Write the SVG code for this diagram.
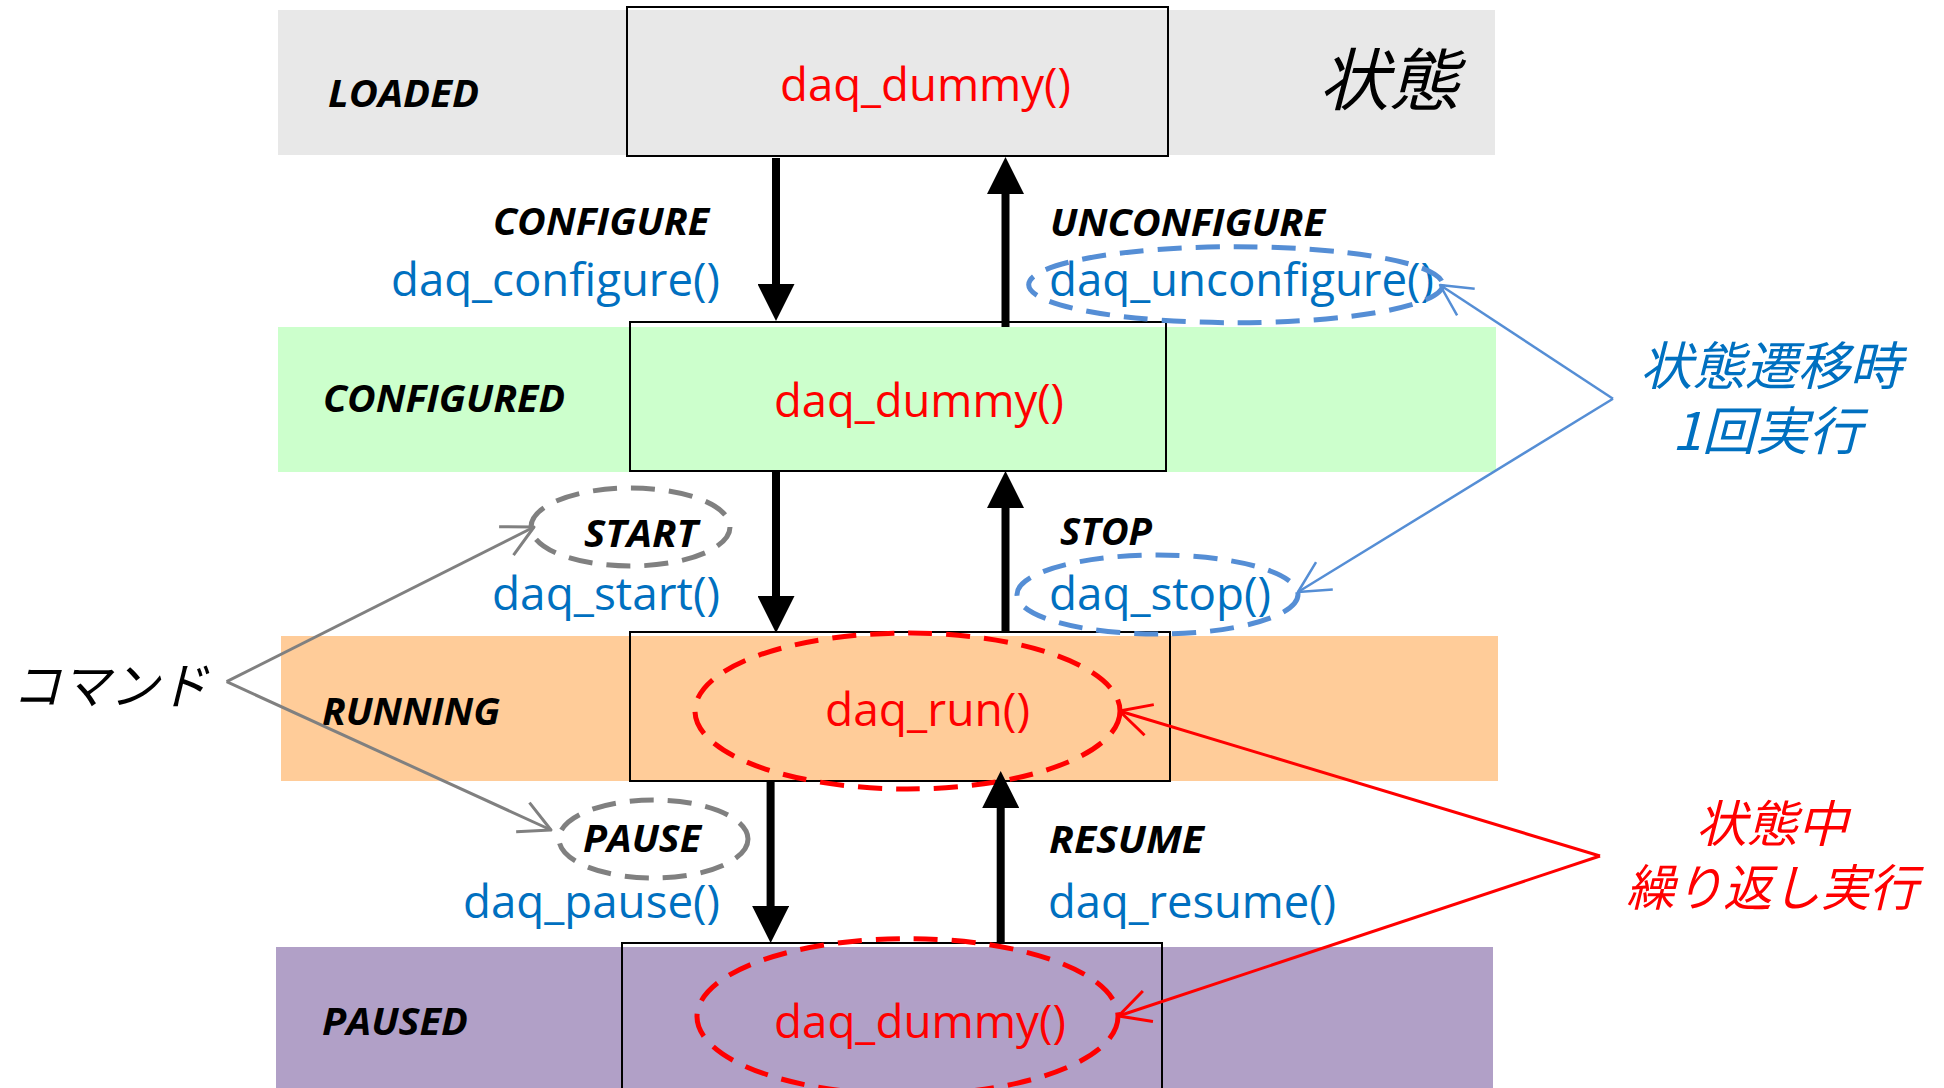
<svg xmlns="http://www.w3.org/2000/svg" width="1944" height="1088" viewBox="0 0 1944 1088">
  <defs>
    <style>
      .band { stroke: none; }
      .box { fill: none; stroke: #000; stroke-width: 2; }
      .state { font-family: "Open Sans", "Liberation Sans", sans-serif; font-weight: 700; font-style: italic; font-size: 38px; fill: #000; }
      .func { font-family: "Open Sans", "Liberation Sans", sans-serif; font-size: 45px; }
      .blue { fill: #0070c0; }
      .red { fill: #ff0000; }
      .cjk { font-family: "Noto Sans CJK JP", "Noto Sans CJK SC", sans-serif; font-style: italic; }
      .shaft { stroke: #000; stroke-width: 8; fill: none; marker-end: url(#head); }
      .ring { fill: none; stroke-width: 5; stroke-dasharray: 24 14; }
      .note-blue { stroke: #558ed5; stroke-width: 2.5; fill: none; marker-end: url(#open-blue); }
      .note-red { stroke: #ff0000; stroke-width: 3; fill: none; marker-end: url(#open-red); }
      .note-gray { stroke: #808080; stroke-width: 3; fill: none; marker-end: url(#open-gray); }
    </style>
    <marker id="head" markerUnits="userSpaceOnUse" markerWidth="37" markerHeight="37" viewBox="0 0 37 37" refX="0" refY="18.5" orient="auto">
      <path d="M0,0 L37,18.5 L0,37 z" fill="#000"/>
    </marker>
    <marker id="open-blue" markerUnits="userSpaceOnUse" markerWidth="40" markerHeight="40" viewBox="-36 -20 40 40" refX="0" refY="0" orient="auto" overflow="visible">
      <path d="M-31,-16 L0,0 L-31,16" fill="none" stroke="#558ed5" stroke-width="2.5" stroke-linejoin="round"/>
    </marker>
    <marker id="open-red" markerUnits="userSpaceOnUse" markerWidth="40" markerHeight="40" viewBox="-36 -20 40 40" refX="0" refY="0" orient="auto" overflow="visible">
      <path d="M-31,-16 L0,0 L-31,16" fill="none" stroke="#ff0000" stroke-width="3" stroke-linejoin="round"/>
    </marker>
    <marker id="open-gray" markerUnits="userSpaceOnUse" markerWidth="40" markerHeight="40" viewBox="-36 -20 40 40" refX="0" refY="0" orient="auto" overflow="visible">
      <path d="M-31,-16 L0,0 L-31,16" fill="none" stroke="#808080" stroke-width="3" stroke-linejoin="round"/>
    </marker>
  </defs>

  <rect width="1944" height="1088" fill="#fff"/>

  <!-- LOADED state -->
  <g id="loaded">
    <rect class="band" x="278" y="10" width="1217" height="145" fill="#e8e8e8"/>
    <rect class="box" x="627" y="7" width="541" height="149"/>
    <text class="state" x="328" y="107" textLength="151" lengthAdjust="spacingAndGlyphs">LOADED</text>
    <text class="func red" x="780" y="101" textLength="291" lengthAdjust="spacingAndGlyphs">daq_dummy()</text>
    <text class="cjk" x="1319" y="105" font-size="68" fill="#000" textLength="140" lengthAdjust="spacingAndGlyphs">状態</text>
  </g>

  <!-- CONFIGURED state -->
  <g id="configured">
    <rect class="band" x="278" y="327" width="1218" height="145" fill="#ccffcc"/>
    <rect class="box" x="630" y="322" width="536" height="149"/>
    <text class="state" x="323" y="412" textLength="242" lengthAdjust="spacingAndGlyphs">CONFIGURED</text>
    <text class="func red" x="774" y="417" textLength="290" lengthAdjust="spacingAndGlyphs">daq_dummy()</text>
  </g>

  <!-- RUNNING state -->
  <g id="running">
    <rect class="band" x="281" y="636" width="1217" height="145" fill="#ffcc99"/>
    <rect class="box" x="630" y="632" width="540" height="149"/>
    <text class="state" x="322" y="725" textLength="178" lengthAdjust="spacingAndGlyphs">RUNNING</text>
    <text class="func red" x="825" y="726" textLength="205" lengthAdjust="spacingAndGlyphs">daq_run()</text>
    <ellipse class="ring" cx="907.5" cy="711" rx="212.5" ry="78" stroke="#ff0000"/>
  </g>

  <!-- PAUSED state -->
  <g id="paused">
    <rect class="band" x="276" y="947" width="1217" height="150" fill="#b1a0c7"/>
    <rect class="box" x="622" y="943" width="540" height="160"/>
    <text class="state" x="322" y="1035" textLength="146" lengthAdjust="spacingAndGlyphs">PAUSED</text>
    <text class="func red" x="774" y="1038" textLength="292" lengthAdjust="spacingAndGlyphs">daq_dummy()</text>
    <ellipse class="ring" cx="907.5" cy="1016.6" rx="210.5" ry="78" stroke="#ff0000"/>
  </g>

  <!-- transitions between states -->
  <g id="connectors">
    <line class="shaft" x1="776" y1="158" x2="776" y2="284"/>
    <line class="shaft" x1="1005.5" y1="327" x2="1005.5" y2="194"/>
    <line class="shaft" x1="776" y1="472" x2="776" y2="596"/>
    <line class="shaft" x1="1005.5" y1="632" x2="1005.5" y2="508"/>
    <line class="shaft" x1="770.6" y1="781" x2="770.6" y2="906"/>
    <line class="shaft" x1="1000.7" y1="943" x2="1000.7" y2="808"/>
  </g>

  <!-- transition labels: command and callback -->
  <g id="t-configure">
    <text class="state" x="493" y="235" textLength="216" lengthAdjust="spacingAndGlyphs">CONFIGURE</text>
    <text class="func blue" x="391" y="296" textLength="329" lengthAdjust="spacingAndGlyphs">daq_configure()</text>
  </g>
  <g id="t-unconfigure">
    <text class="state" x="1050" y="236" textLength="275" lengthAdjust="spacingAndGlyphs">UNCONFIGURE</text>
    <text class="func blue" x="1049" y="296" textLength="385" lengthAdjust="spacingAndGlyphs">daq_unconfigure()</text>
    <ellipse class="ring" cx="1235.7" cy="284.7" rx="207" ry="38" stroke="#558ed5"/>
  </g>
  <g id="t-start">
    <text class="state" x="584" y="547" textLength="114" lengthAdjust="spacingAndGlyphs">START</text>
    <text class="func blue" x="492" y="610" textLength="228" lengthAdjust="spacingAndGlyphs">daq_start()</text>
    <ellipse class="ring" cx="630.5" cy="527" rx="99.5" ry="39" stroke="#808080"/>
  </g>
  <g id="t-stop">
    <text class="state" x="1060" y="545" textLength="92" lengthAdjust="spacingAndGlyphs">STOP</text>
    <text class="func blue" x="1049" y="610" textLength="222" lengthAdjust="spacingAndGlyphs">daq_stop()</text>
    <ellipse class="ring" cx="1157.5" cy="594.5" rx="140.5" ry="39.5" stroke="#558ed5"/>
  </g>
  <g id="t-pause">
    <text class="state" x="583" y="852" textLength="118" lengthAdjust="spacingAndGlyphs">PAUSE</text>
    <text class="func blue" x="463" y="918" textLength="257" lengthAdjust="spacingAndGlyphs">daq_pause()</text>
    <ellipse class="ring" cx="653.5" cy="839" rx="94.5" ry="39" stroke="#808080"/>
  </g>
  <g id="t-resume">
    <text class="state" x="1049" y="853" textLength="155" lengthAdjust="spacingAndGlyphs">RESUME</text>
    <text class="func blue" x="1048" y="918" textLength="288" lengthAdjust="spacingAndGlyphs">daq_resume()</text>
  </g>

  <!-- callouts -->
  <g id="note-command">
    <text class="cjk" x="12" y="704" font-size="50" fill="#000" textLength="196" lengthAdjust="spacingAndGlyphs">コマンド</text>
    <path class="note-gray" d="M226.6,681.7 L534,527"/>
    <path class="note-gray" d="M226.6,681.7 L551,830"/>
  </g>
  <g id="note-once">
    <text class="cjk" font-size="52" fill="#0070c0"><tspan x="1640" y="385" textLength="262" lengthAdjust="spacingAndGlyphs">状態遷移時</tspan><tspan x="1672" y="450" textLength="190" lengthAdjust="spacingAndGlyphs">1回実行</tspan></text>
    <path class="note-blue" d="M1613,398.7 L1440,285"/>
    <path class="note-blue" d="M1613,398.7 L1298,592"/>
  </g>
  <g id="note-repeat">
    <text class="cjk" font-size="50" fill="#ff0000"><tspan x="1696" y="842" textLength="152" lengthAdjust="spacingAndGlyphs">状態中</tspan><tspan x="1626" y="906" textLength="292" lengthAdjust="spacingAndGlyphs">繰り返し実行</tspan></text>
    <path class="note-red" d="M1600,856 L1119.5,711"/>
    <path class="note-red" d="M1600,856 L1118.5,1016"/>
  </g>
</svg>
